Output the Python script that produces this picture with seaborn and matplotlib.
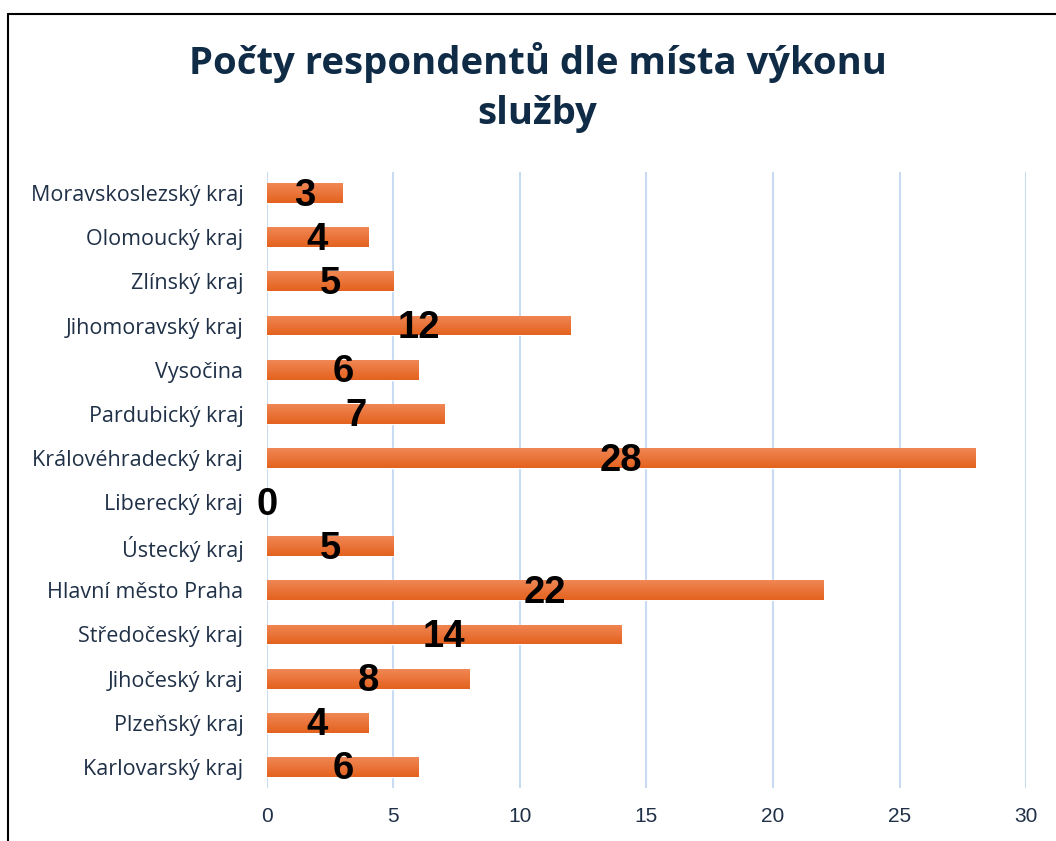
import matplotlib
matplotlib.use("Agg")
import matplotlib.pyplot as plt
import seaborn as sns
import numpy as np
import pandas as pd
from matplotlib.lines import Line2D
from matplotlib.colors import LinearSegmentedColormap

# Data, top to bottom as in the chart.
regions = ["Moravskoslezský kraj", "Olomoucký kraj", "Zlínský kraj",
           "Jihomoravský kraj", "Vysočina", "Pardubický kraj",
           "Královéhradecký kraj", "Liberecký kraj", "Ústecký kraj",
           "Hlavní město Praha", "Středočeský kraj", "Jihočeský kraj",
           "Plzeňský kraj", "Karlovarský kraj"]
counts = [3, 4, 5, 12, 6, 7, 28, 0, 5, 22, 14, 8, 4, 6]
x_ticks = [0, 5, 10, 15, 20, 25, 30]

df = pd.DataFrame({"kraj": regions, "pocet": counts})

sns.set_style("white")
plt.rcParams['font.family'] = ['Open Sans', 'DejaVu Sans']

fig = plt.figure(figsize=(10.56, 8.41), dpi=100)
ax = fig.add_axes([0.2528, 0.063, 0.7188, 0.7325])

sns.barplot(data=df, x="pocet", y="kraj", color="#EA6A2C", width=0.45,
            saturation=1, ax=ax, zorder=3)

ax.set_xlim(0, 30)
ax.set_ylim(13.48, -0.48)

# Light-to-dark gradient on the bars, like the original.
grad = LinearSegmentedColormap.from_list("bar", ["#F08755", "#E4621E"])
g = np.linspace(0, 1, 64).reshape(-1, 1)
for p in ax.patches:
    x0, y0 = p.get_x(), p.get_y()
    w, h = p.get_width(), p.get_height()
    if w <= 0:
        continue
    im = ax.imshow(g, cmap=grad, aspect="auto", zorder=4,
                   extent=[x0, x0 + w, y0 + h, y0], origin="upper")
    im.set_clip_path(p)
ax.set_xlim(0, 30)
ax.set_ylim(13.48, -0.48)

ax.set_xticks(x_ticks)
ax.set_xlabel("")
ax.set_ylabel("")
sns.despine(ax=ax, left=True, bottom=True)
ax.grid(axis="x", color="#C8DBF2", linewidth=1.5, zorder=0)
ax.set_axisbelow(True)
ax.tick_params(axis="y", length=0, pad=17, labelsize=15.5, labelcolor="#1F3047")
ax.tick_params(axis="x", length=0, pad=14, labelcolor="#1F3047")
for lab in ax.get_xticklabels():
    lab.set_fontfamily(["Liberation Sans", "DejaVu Sans"])
    lab.set_fontsize(15)

# Value labels in the middle of each bar.
for i, v in enumerate(counts):
    ax.text(v / 2, i + 0.06, str(v), ha="center", va="center",
            fontsize=27.5, fontweight="bold", color="black",
            family=["Liberation Sans", "DejaVu Sans"], zorder=5)

fig.suptitle("Počty respondentů dle místa výkonu\nslužby", x=0.509, y=0.950,
             fontsize=27.5, fontweight="bold", color="#0F2B46",
             linespacing=1.42, va="top")

# Chart frame (cropped on right and bottom).
fig.add_artist(Line2D([0.0076, 0.0076], [0.9834, -0.1], color="black", lw=1.5))
fig.add_artist(Line2D([0.0076, 1.1], [0.9834, 0.9834], color="black", lw=1.5))

fig.savefig("out.png", dpi=100)
